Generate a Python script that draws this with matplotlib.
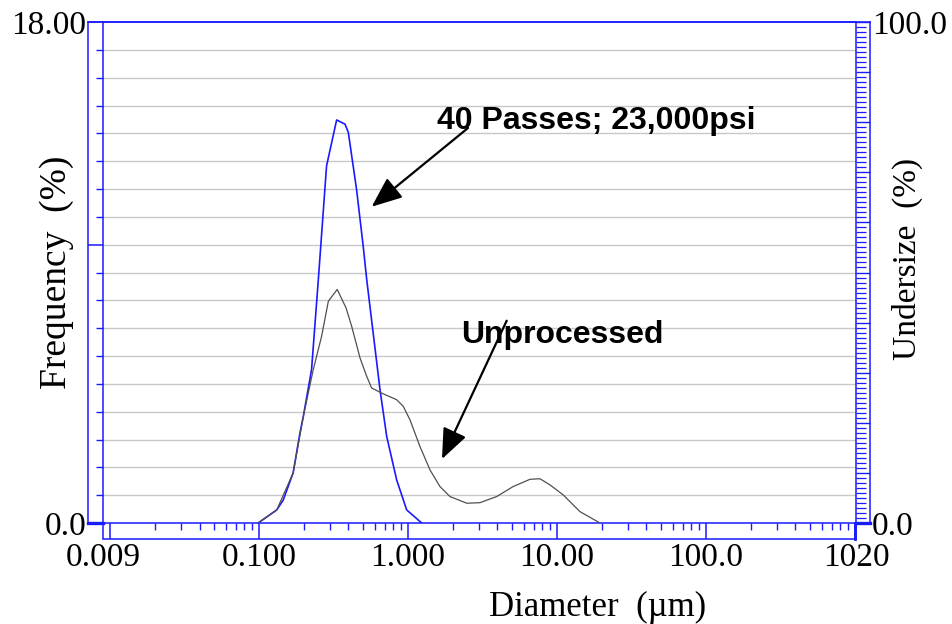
import matplotlib
matplotlib.use("Agg")
import matplotlib.pyplot as plt
from matplotlib.lines import Line2D
from matplotlib.ticker import FixedLocator, NullFormatter

# ---------------- data ----------------
diam_40 = [0.099, 0.132, 0.146, 0.170, 0.189, 0.199, 0.226, 0.251, 0.285, 0.333,
           0.379, 0.399, 0.453, 0.502, 0.530, 0.651, 0.722, 0.842, 0.983, 1.24]
freq_40 = [0.0, 0.47, 0.83, 1.80, 3.24, 3.83, 5.51, 8.75, 12.83, 14.48,
           14.33, 14.03, 11.99, 9.95, 8.75, 4.79, 3.11, 1.55, 0.47, 0.0]

diam_un = [0.099, 0.132, 0.170, 0.199, 0.232, 0.264, 0.293, 0.336, 0.385, 0.420,
           0.478, 0.530, 0.572, 0.685, 0.842, 0.933, 1.034, 1.207, 1.409, 1.644,
           1.92, 2.49, 3.05, 3.95, 5.10, 6.61, 7.71, 9.00, 11.05, 14.3, 19.5]
freq_un = [0.0, 0.47, 1.80, 3.83, 5.51, 6.71, 7.97, 8.39, 7.73, 7.07,
           5.93, 5.27, 4.85, 4.64, 4.43, 4.19, 3.71, 2.75, 1.91, 1.31,
           0.95, 0.71, 0.73, 0.95, 1.31, 1.57, 1.59, 1.37, 1.01, 0.41, 0.0]

x_tick_vals = [0.009, 0.01, 0.1, 1, 10, 100, 1000, 1020]
x_tick_labels = ["0.009", "", "0.100", "1.000", "10.00", "100.0", "", "1020"]
left_tick_vals = [0, 10, 18]
left_tick_labels = ["0.0", "", "18.00"]
right_tick_vals = list(range(0, 101, 10))
right_tick_labels = ["0.0"] + [""] * 9 + ["100.0"]

label_40 = "40 Passes; 23,000psi"
label_un = "Unprocessed"

# ---------------- layout helpers ----------------
W, H = 952, 624
def fx(x):
    return x / W
def fy(y):
    return 1 - y / H

BLUE = "#1a1aff"
SERIF = "Liberation Serif"

fig = plt.figure(figsize=(9.52, 6.24), dpi=100)
fig.patch.set_facecolor("white")

ax = fig.add_axes([fx(103), fy(523), fx(856) - fx(103), fy(22) - fy(523)])
ax.set_xscale("log")
ax.set_xlim(0.009, 1020)
ax.set_ylim(0, 18)

for v in range(1, 18):
    ax.axhline(v, color="#c8c8c8", lw=1.0, zorder=0)

ax.plot(diam_40, freq_40, color=BLUE, lw=1.2, zorder=3)
ax.plot(diam_un, freq_un, color="#505050", lw=0.9, zorder=4)

for s in ax.spines.values():
    s.set_color(BLUE)
    s.set_linewidth(1.1)

# x ticks
ax.xaxis.set_major_locator(FixedLocator(x_tick_vals))
ax.set_xticklabels(x_tick_labels)
minor_x = [k * 10.0 ** e for e in range(-2, 3) for k in range(2, 10)]
ax.xaxis.set_minor_locator(FixedLocator(minor_x))
ax.xaxis.set_minor_formatter(NullFormatter())
ax.tick_params(axis="x", which="major", direction="out", length=16 * 0.72,
               width=1.1, color=BLUE, pad=2.5, labelsize=24)
ax.tick_params(axis="x", which="minor", direction="out", length=7 * 0.72,
               width=1.0, color=BLUE)

# left y ticks
ax.yaxis.set_major_locator(FixedLocator(left_tick_vals))
ax.set_yticklabels(left_tick_labels)
ax.yaxis.set_minor_locator(FixedLocator(list(range(1, 18))))
ax.tick_params(axis="y", which="major", direction="out", length=15 * 0.72,
               width=1.1, color=BLUE, pad=1, labelsize=24)
ax.tick_params(axis="y", which="minor", direction="out", length=7 * 0.72,
               width=1.0, color=BLUE)
for lab in ax.get_xticklabels() + ax.get_yticklabels():
    lab.set_fontfamily(SERIF)

# right axis
ax2 = ax.twinx()
ax2.set_ylim(0, 100)
ax2.yaxis.set_major_locator(FixedLocator(right_tick_vals))
ax2.set_yticklabels(right_tick_labels)
ax2.yaxis.set_minor_locator(FixedLocator(list(range(0, 101))))
ax2.tick_params(axis="y", which="major", direction="out", length=14 * 0.72,
                width=1.0, color=BLUE, pad=1.5, labelsize=24)
ax2.tick_params(axis="y", which="minor", direction="out", length=10 * 0.72,
                width=0.9, color=BLUE)
for lab in ax2.get_yticklabels():
    lab.set_fontfamily(SERIF)
for s in ax2.spines.values():
    s.set_visible(False)

# outer frame lines (figure pixels)
def fline(x0, y0, x1, y1, lw=1.1):
    fig.add_artist(Line2D([fx(x0), fx(x1)], [fy(y0), fy(y1)], color=BLUE,
                          lw=lw, transform=fig.transFigure))

fline(88, 22, 870, 22)
fline(88, 22, 88, 523)
fline(870, 22, 870, 523)
fline(88, 523, 103, 523, lw=2.4)
fline(856, 523, 870, 523, lw=2.4)
fline(103, 539, 856, 539)
fline(855, 523, 855, 539, lw=2.0)

# axis titles
fig.text(fx(57), fy(272), "Frequency  (%)", rotation=90, ha="center",
         va="center", fontsize=27, family=SERIF)
fig.text(fx(907), fy(259), "Undersize  (%)", rotation=90, ha="center",
         va="center", fontsize=24, family=SERIF)
fig.text(fx(598), fy(607), "Diameter  (\u00b5m)", ha="center", va="center",
         fontsize=25, family=SERIF)

# annotations
fig.text(fx(437), fy(129), label_40, ha="left", va="baseline", fontsize=23,
         fontweight="bold", family="Liberation Sans")
fig.text(fx(461), fy(343), label_un, ha="left", va="baseline", fontsize=23,
         fontweight="bold", family="Liberation Sans")

arrow_kw = dict(arrowstyle="-|>,head_length=0.85,head_width=0.35", color="black",
                lw=1.6, mutation_scale=22, shrinkA=0, shrinkB=0)
ax.annotate("", xy=(fx(371.7), fy(206.7)), xycoords="figure fraction",
            xytext=(fx(468), fy(128)), textcoords="figure fraction",
            arrowprops=arrow_kw)
ax.annotate("", xy=(fx(442), fy(459)), xycoords="figure fraction",
            xytext=(fx(506.7), fy(320.7)), textcoords="figure fraction",
            arrowprops=arrow_kw)

fig.savefig("out.png", dpi=100, facecolor="white")
